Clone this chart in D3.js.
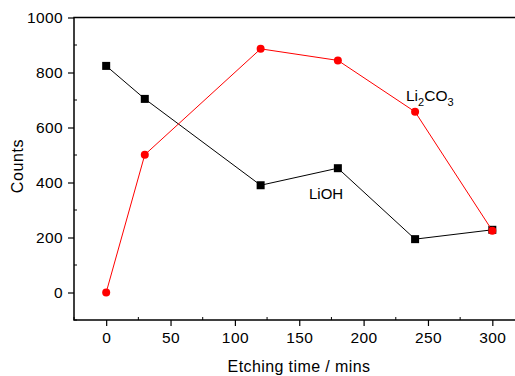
<!DOCTYPE html>
<html>
<head>
<meta charset="utf-8">
<script src="https://cdn.jsdelivr.net/npm/d3@7.9.0/dist/d3.min.js"></script>
<style>
  body { margin: 0; background: #fff; }
  svg { display: block; font-family: "Liberation Sans", Arial, sans-serif; }
</style>
</head>
<body>
<div id="chart"></div>
<script>
const times = [0, 30, 120, 180, 240, 300];
const lioh = [824, 704, 390, 452, 194, 228];
const li2co3 = [0, 501, 886, 844, 657, 225];
const xTicks = [0, 50, 100, 150, 200, 250, 300];
const yTicks = [0, 200, 400, 600, 800, 1000];

const width = 515, height = 376;
const svg = d3.select('#chart').append('svg')
  .attr('width', width).attr('height', height);

const x = d3.scaleLinear().domain([-25, 325]).range([74, 524.5]);
const y = d3.scaleLinear().domain([-100, 1000]).range([320, 17.5]);

// frame
svg.append('rect')
  .attr('x', 74).attr('y', 17.5)
  .attr('width', 524.5 - 74).attr('height', 320 - 17.5)
  .attr('fill', 'none').attr('stroke', '#000').attr('stroke-width', 1.5);

// minor ticks (inward)
const xMinor = d3.range(-25, 326, 50);
const yMinor = d3.range(-100, 1000, 200);
svg.append('g').selectAll('line').data(xMinor).join('line')
  .attr('x1', d => x(d)).attr('x2', d => x(d))
  .attr('y1', 320).attr('y2', 317)
  .attr('stroke', '#000').attr('stroke-width', 1);
svg.append('g').selectAll('line').data(yMinor).join('line')
  .attr('y1', d => y(d)).attr('y2', d => y(d))
  .attr('x1', 74).attr('x2', 77)
  .attr('stroke', '#000').attr('stroke-width', 1);

const xAxis = svg.append('g')
  .attr('transform', 'translate(0,320)')
  .call(d3.axisBottom(x).tickValues(xTicks).tickFormat(d3.format('d'))
    .tickSize(6).tickPadding(6).tickSizeOuter(0));
const yAxis = svg.append('g')
  .attr('transform', 'translate(74,0)')
  .call(d3.axisLeft(y).tickValues(yTicks).tickFormat(d3.format('d'))
    .tickSize(6).tickPadding(5).tickSizeOuter(0));

[xAxis, yAxis].forEach(a => {
  a.select('.domain').remove();
  a.selectAll('.tick line').attr('stroke-width', 1.2);
  a.selectAll('.tick text')
    .attr('font-family', '"Liberation Sans", Arial, sans-serif')
    .attr('font-size', 15.5).attr('letter-spacing', 0.4).attr('fill', '#000');
});

const line = d3.line().x((d, i) => x(times[i])).y(d => y(d));

// LiOH
svg.append('path').datum(lioh)
  .attr('d', line).attr('fill', 'none').attr('stroke', '#000').attr('stroke-width', 1);
svg.append('g').selectAll('rect').data(lioh).join('rect')
  .attr('x', (d, i) => x(times[i]) - 4).attr('y', d => y(d) - 4)
  .attr('width', 8).attr('height', 8).attr('fill', '#000');

// Li2CO3
svg.append('path').datum(li2co3)
  .attr('d', line).attr('fill', 'none').attr('stroke', '#ff0000').attr('stroke-width', 1);
svg.append('g').selectAll('circle').data(li2co3).join('circle')
  .attr('cx', (d, i) => x(times[i])).attr('cy', d => y(d))
  .attr('r', 4).attr('fill', '#ff0000');

// series labels
svg.append('text').attr('x', 309).attr('y', 199)
  .attr('font-size', 15).text('LiOH');
const lab = svg.append('text').attr('x', 406).attr('y', 101).attr('font-size', 15.5);
lab.append('tspan').text('Li');
lab.append('tspan').attr('dy', 5).attr('font-size', 11).text('2');
lab.append('tspan').attr('dy', -5).text('CO');
lab.append('tspan').attr('dy', 5).attr('font-size', 11).text('3');

// axis titles
svg.append('text').attr('x', 299).attr('y', 372)
  .attr('text-anchor', 'middle').attr('font-size', 16)
  .attr('letter-spacing', 0.4)
  .text('Etching time / mins');
svg.append('text')
  .attr('transform', 'translate(23,166) rotate(-90)')
  .attr('text-anchor', 'middle').attr('font-size', 16)
  .attr('letter-spacing', 0.6)
  .text('Counts');
</script>
</body>
</html>
